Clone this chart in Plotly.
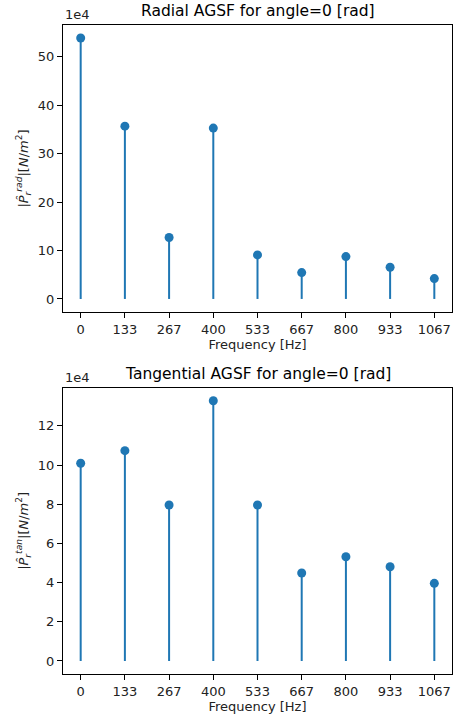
import plotly.graph_objects as go

freqs = [0, 133.33, 266.67, 400, 533.33, 666.67, 800, 933.33, 1066.67]
tick_labels = ["0", "133", "267", "400", "533", "667", "800", "933", "1067"]
radial = [53.9, 35.7, 12.7, 35.3, 9.1, 5.45, 8.75, 6.55, 4.2]      # x1e4 N/m^2
tangential = [10.09, 10.73, 7.96, 13.28, 7.96, 4.49, 5.32, 4.81, 3.96]  # x1e4 N/m^2

titles = ["Radial AGSF for angle=0 [rad]", "Tangential AGSF for angle=0 [rad]"]
ylabels = ["|<i>P&#770;</i><sub><i>r</i></sub><sup><i>rad</i></sup>|[<i>N</i>/<i>m</i><sup>2</sup>]",
           "|<i>P&#770;</i><sub><i>r</i></sub><sup><i>tan</i></sup>|[<i>N</i>/<i>m</i><sup>2</sup>]"]
yticks = [[0, 10, 20, 30, 40, 50], [0, 2, 4, 6, 8, 10, 12]]

COLOR = "#1f77b4"
FONT = "DejaVu Sans"
W, H = 453, 721
ML, MR, MT, MB = 63, 1, 25, 47
plot_h = H - MT - MB
dom_top = [(674 - 312) / plot_h, 1.0]
dom_bot = [0.0, (674 - 387.7) / plot_h]

fig = go.Figure()

for i, vals in enumerate([radial, tangential]):
    xa = "x" if i == 0 else "x2"
    ya = "y" if i == 0 else "y2"
    sx, sy = [], []
    for f, v in zip(freqs, vals):
        sx += [f, f, None]
        sy += [0, v, None]
    fig.add_trace(go.Scatter(x=sx, y=sy, mode="lines", line=dict(color=COLOR, width=2),
                             xaxis=xa, yaxis=ya, showlegend=False, hoverinfo="skip"))
    fig.add_trace(go.Scatter(x=freqs, y=vals, mode="markers",
                             marker=dict(color=COLOR, size=9, line=dict(width=0)),
                             xaxis=xa, yaxis=ya, showlegend=False))

xmax = freqs[-1]
xr = [-0.05 * xmax, 1.05 * xmax]

def yr(vals):
    m = max(vals)
    return [-0.05 * m, 1.05 * m]

axis_common = dict(showline=True, linecolor="black", linewidth=1, mirror=True,
                   ticks="outside", ticklen=5, tickwidth=1, tickcolor="black",
                   showgrid=False, zeroline=False,
                   tickfont=dict(family=FONT, size=13, color="#222"))

fig.update_layout(
    width=W, height=H,
    margin=dict(l=ML, r=MR, t=MT, b=MB),
    plot_bgcolor="white", paper_bgcolor="white",
    font=dict(family=FONT, size=13, color="#222"),
    xaxis=dict(domain=[0, 1], anchor="y", range=xr, tickvals=freqs, ticktext=tick_labels,
               title=dict(text="Frequency [Hz]", font=dict(family=FONT, size=13), standoff=4),
               **axis_common),
    yaxis=dict(domain=dom_top, anchor="x", range=yr(radial), tickvals=yticks[0],
               title=dict(text=ylabels[0], font=dict(family=FONT, size=13), standoff=6),
               **axis_common),
    xaxis2=dict(domain=[0, 1], anchor="y2", range=xr, tickvals=freqs, ticktext=tick_labels,
                title=dict(text="Frequency [Hz]", font=dict(family=FONT, size=13), standoff=4),
                **axis_common),
    yaxis2=dict(domain=dom_bot, anchor="x2", range=yr(tangential), tickvals=yticks[1],
                title=dict(text=ylabels[1], font=dict(family=FONT, size=13), standoff=6),
                **axis_common),
)

for i, dom in enumerate([dom_top, dom_bot]):
    fig.add_annotation(text=titles[i], xref="paper", yref="paper", x=0.5, y=dom[1],
                       xanchor="center", yanchor="bottom", yshift=3, showarrow=False,
                       font=dict(family=FONT, size=15.5, color="black"))
    fig.add_annotation(text="1e4", xref="paper", yref="paper", x=0, y=dom[1],
                       xanchor="left", yanchor="bottom", yshift=1, showarrow=False,
                       font=dict(family=FONT, size=13, color="#222"))

fig.write_html("out.html", config={"displayModeBar": False},
               post_script="document.body.style.margin='0';document.body.style.overflow='hidden';")
